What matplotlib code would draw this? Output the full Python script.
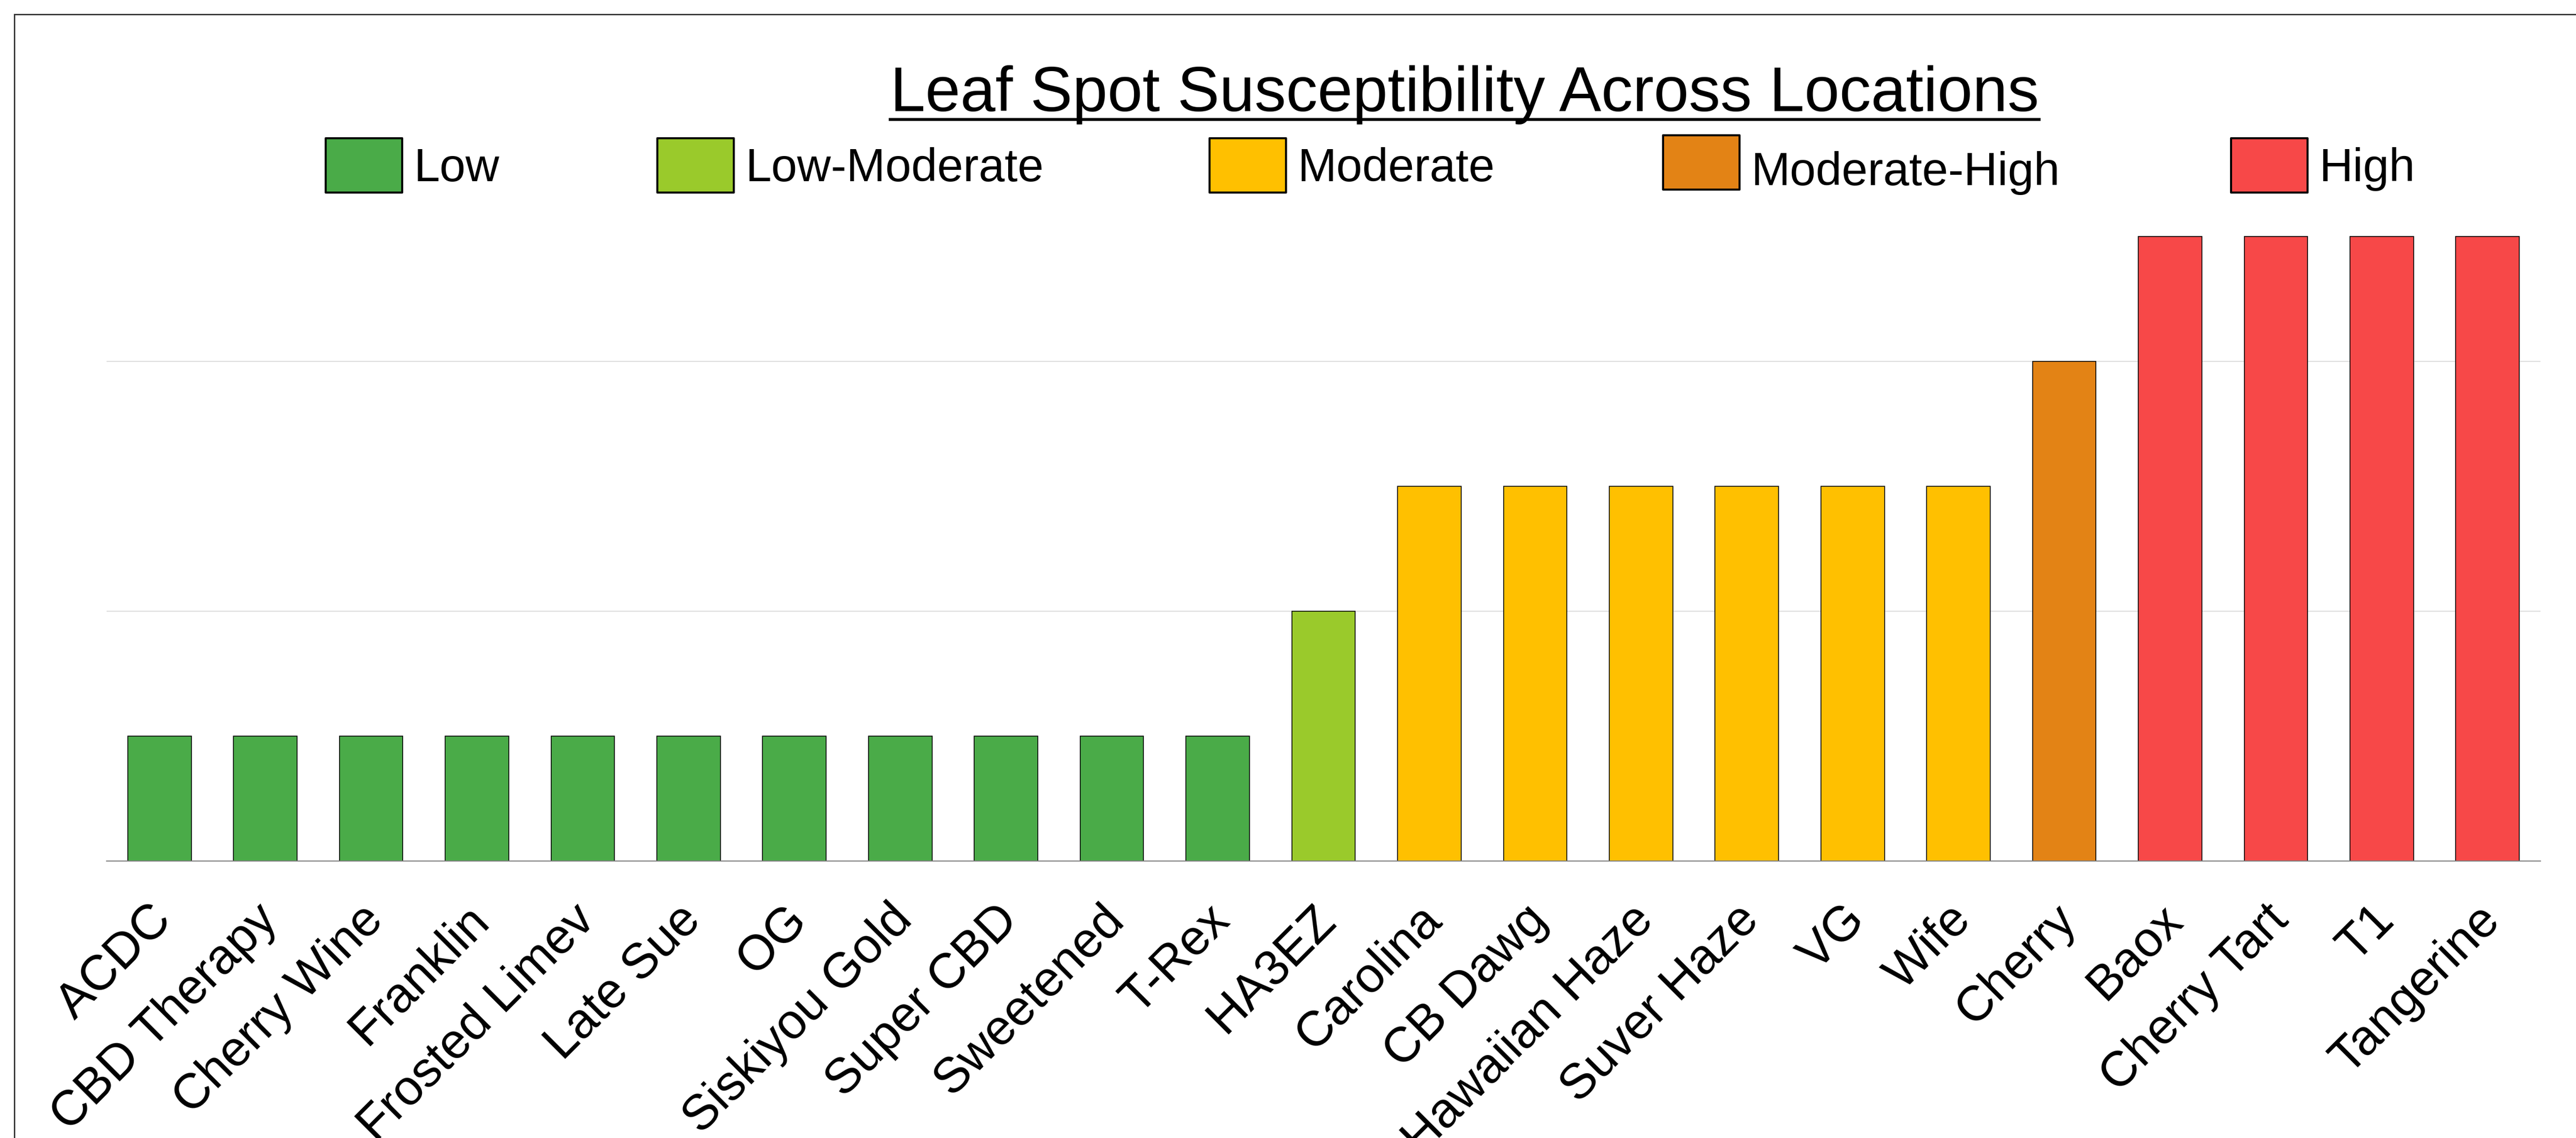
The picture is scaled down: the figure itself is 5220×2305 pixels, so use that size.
import matplotlib
matplotlib.use("Agg")
import matplotlib.pyplot as plt
from matplotlib.patches import Rectangle
from matplotlib.lines import Line2D
from matplotlib.transforms import ScaledTranslation

plt.rcParams['font.family'] = ['Liberation Sans', 'DejaVu Sans']

# data
categories = ["Low", "Low-Moderate", "Moderate", "Moderate-High", "High"]
cat_colors = ["#4AAB48", "#9ACA2B", "#FFC000", "#E38315", "#F74848"]
cultivars = ["ACDC", "CBD Therapy", "Cherry Wine", "Franklin", "Frosted Limev",
             "Late Sue", "OG", "Siskiyou Gold", "Super CBD", "Sweetened", "T-Rex",
             "HA3EZ", "Carolina", "CB Dawg", "Hawaiian Haze", "Suver Haze", "VG",
             "Wife", "Cherry", "Baox", "Cherry Tart", "T1", "Tangerine"]
scores = [0.5, 0.5, 0.5, 0.5, 0.5, 0.5, 0.5, 0.5, 0.5, 0.5, 0.5,
          1.0, 1.5, 1.5, 1.5, 1.5, 1.5, 1.5, 2.0, 2.5, 2.5, 2.5, 2.5]
level = [0, 0, 0, 0, 0, 0, 0, 0, 0, 0, 0,
         1, 2, 2, 2, 2, 2, 2, 3, 4, 4, 4, 4]
title = "Leaf Spot Susceptibility Across Locations"

W, H = 5220, 2305
fig = plt.figure(figsize=(W / 100, H / 100), dpi=100)

def fx(px):
    return px / W

def fy(py):
    return 1 - py / H

ax = fig.add_axes([fx(216), fy(1744), fx(5148) - fx(216), fy(428) - fy(1744)])
x = list(range(len(cultivars)))
ax.bar(x, scores, width=0.6, color=[cat_colors[l] for l in level],
       edgecolor="black", linewidth=1.2, zorder=3)
ax.set_xlim(-0.5, len(cultivars) - 0.5)
ax.set_ylim(0, 2.6)
ax.set_yticks([0, 1, 2])
ax.grid(axis="y", color="#DDDDDD", linewidth=1.5, zorder=0)
for s in ["left", "right", "top"]:
    ax.spines[s].set_visible(False)
ax.spines["bottom"].set_color("#808080")
ax.spines["bottom"].set_linewidth(1.5)
ax.spines["bottom"].set_zorder(4)
ax.tick_params(left=False, labelleft=False, bottom=False, pad=72)
ax.set_xticks(x)
ax.set_xticklabels(cultivars, rotation=45, ha="right", va="center",
                   rotation_mode="anchor", fontsize=72)
shift = ScaledTranslation(0.1, 0, fig.dpi_scale_trans)
for lab in ax.get_xticklabels():
    lab.set_transform(lab.get_transform() + shift)

# title with underline
t = fig.text(fx(2968), fy(225), title, ha="center", va="baseline", fontsize=92)
fig.canvas.draw()
bb = t.get_window_extent(fig.canvas.get_renderer())
fig.add_artist(Line2D([bb.x0 / W, bb.x1 / W], [fy(242), fy(242)],
                      color="black", linewidth=4.3, transform=fig.transFigure))

# legend entries placed like the original
leg_left = [660, 1332, 2451, 3370, 4521]
leg_dy = [0, 0, 0, -6, 0]
leg_tdy = [0, 0, 0, 8, 0]
for i, cat in enumerate(categories):
    x0 = leg_left[i]
    top = 280 + leg_dy[i]
    fig.add_artist(Rectangle((fx(x0), fy(top + 110)), fx(155), fy(top) - fy(top + 110),
                             facecolor=cat_colors[i], edgecolor="black", linewidth=3,
                             joinstyle="round", transform=fig.transFigure))
    fig.text(fx(x0 + 178), fy(367 + leg_tdy[i]), cat, ha="left", va="baseline",
             fontsize=68)

# outer frame (right and bottom edges fall outside the picture)
fig.add_artist(Rectangle((fx(29), -0.1), 1.2, fy(29) + 0.1, fill=False,
                         edgecolor="#333333", linewidth=2, transform=fig.transFigure,
                         clip_on=False))

fig.savefig("out.png", dpi=100, facecolor="white")
